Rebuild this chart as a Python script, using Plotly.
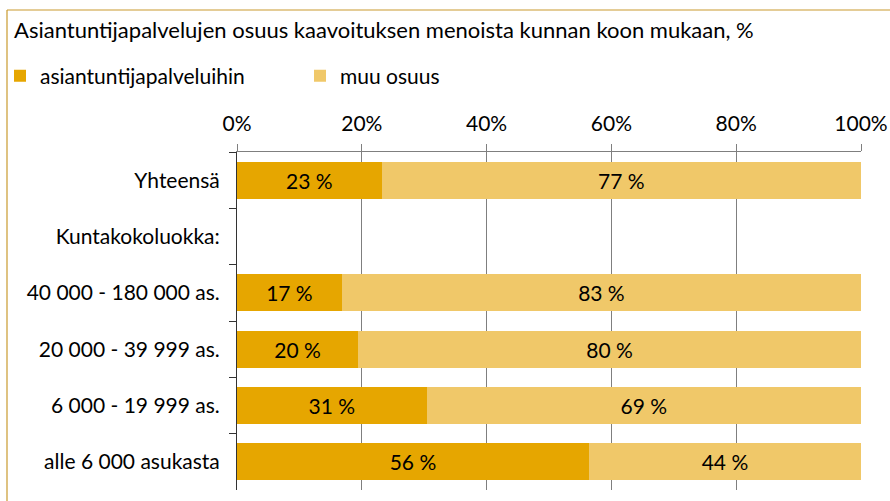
import plotly.graph_objects as go

categories = ["Yhteensä", "Kuntakokoluokka:", "40 000 - 180 000 as.", "20 000 - 39 999 as.",
              "6 000 - 19 999 as.", "alle 6 000 asukasta"]
asiantuntija = [23.2, None, 16.8, 19.4, 30.4, 56.4]
muu = [76.8, None, 83.2, 80.6, 69.6, 43.6]
asiantuntija_labels = ["23 %", "", "17 %", "20 %", "31 %", "56 %"]
muu_labels = ["77 %", "", "83 %", "80 %", "69 %", "44 %"]
tick_vals = [0, 20, 40, 60, 80, 100]
tick_text = ["0%", "20%", "40%", "60%", "80%", "100%"]

DARK = "#E6A600"
LIGHT = "#F0C869"
FONT = "Lato"
FS = 21

fig = go.Figure()
fig.add_trace(go.Bar(
    y=categories, x=asiantuntija, orientation="h", name="asiantuntijapalveluihin",
    marker=dict(color=DARK, line=dict(width=0)), text=asiantuntija_labels,
    textposition="inside", insidetextanchor="middle",
    textfont=dict(color="black", size=FS, family=FONT), constraintext="none",
))
fig.add_trace(go.Bar(
    y=categories, x=muu, orientation="h", name="muu osuus",
    marker=dict(color=LIGHT, line=dict(width=0)), text=muu_labels,
    textposition="inside", insidetextanchor="middle",
    textfont=dict(color="black", size=FS, family=FONT), constraintext="none",
))

W, H = 890, 501
L, R, T, B = 237, 29, 152, 11
pw, ph = W - L - R, H - T - B

def px_x(x):
    return (x - L) / pw

def px_y(y):
    return (H - B - y) / ph

fig.update_layout(
    width=W, height=H,
    barmode="stack", bargap=0.34,
    margin=dict(l=L, r=R, t=T, b=B, autoexpand=False),
    paper_bgcolor="white", plot_bgcolor="white",
    font=dict(family=FONT, size=FS, color="black"),
    title=dict(text="Asiantuntijapalvelujen osuus kaavoituksen menoista kunnan koon mukaan, %",
               x=14 / W, xref="container", xanchor="left",
               y=1 - 30 / H, yref="container", yanchor="middle",
               font=dict(size=22, family=FONT, color="black")),
    legend=dict(orientation="h", xref="container", yref="container",
                x=-3 / W, xanchor="left", y=1 - 76 / H, yanchor="middle",
                font=dict(size=FS, family=FONT), entrywidth=255, itemwidth=30,
                bgcolor="rgba(0,0,0,0)", traceorder="normal"),
    xaxis=dict(side="top", range=[0, 100], tickvals=tick_vals, ticktext=tick_text,
               showgrid=True, gridcolor="#7f7f7f", gridwidth=1,
               showline=True, linecolor="#7f7f7f", linewidth=1,
               ticks="outside", ticklen=7, tickcolor="#7f7f7f", automargin=False,
               ticklabelstandoff=5,
               zeroline=False, tickfont=dict(size=FS, family=FONT)),
    yaxis=dict(autorange="reversed", type="category", tickson="boundaries",
               ticks="outside", ticklen=7, tickcolor="#333333", automargin=False,
               showline=True, linecolor="#333333", linewidth=1, ticklabelstandoff=12,
               showgrid=False, tickfont=dict(size=FS, family=FONT)),
    shapes=[
        dict(type="line", xref="paper", yref="paper", x0=px_x(7), x1=px_x(7),
             y0=px_y(10), y1=px_y(520), line=dict(color="#C99A2E", width=1.2)),
        dict(type="line", xref="paper", yref="paper", x0=px_x(7), x1=px_x(900),
             y0=px_y(10), y1=px_y(10), line=dict(color="#C99A2E", width=1.2)),
    ],
)

fig.write_html("out.html", post_script="document.body.style.margin='0';",
               config={"displayModeBar": False})
